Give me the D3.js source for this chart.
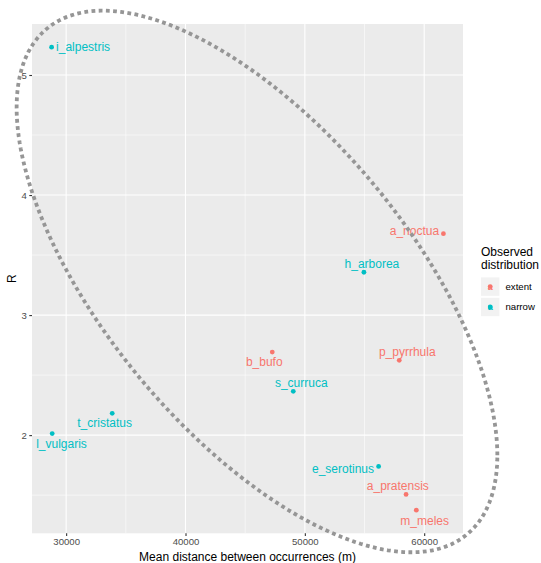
<!DOCTYPE html>
<html>
<head>
<meta charset="utf-8">
<script src="https://cdn.jsdelivr.net/npm/d3@7"></script>
<style>
  body { margin: 0; background: #fff; }
  text { font-family: "Liberation Sans", Arial, Helvetica, sans-serif; }
</style>
</head>
<body>
<svg id="chart" width="541" height="563"></svg>
<script>
// data
var species = ["i_alpestris", "a_noctua", "h_arborea", "b_bufo", "p_pyrrhula", "s_curruca",
               "t_cristatus", "l_vulgaris", "e_serotinus", "a_pratensis", "m_meles"];
var meanDist = [28780, 61610, 54950, 47270, 57910, 49030, 33860, 28830, 56180, 58480, 59340];
var rValues = [5.232, 3.678, 3.357, 2.692, 2.623, 2.365, 2.182, 2.013, 1.739, 1.506, 1.375];
var distribution = ["narrow", "extent", "narrow", "extent", "extent", "narrow",
                    "narrow", "narrow", "narrow", "extent", "extent"];
var groups = ["extent", "narrow"];
var xTicks = [30000, 40000, 50000, 60000];
var yTicks = [2, 3, 4, 5];

// hand drawn ellipse annotation (data units: centre, spread, correlation)
var ellipse = {cx: 45990, cy: 3.28, sx: 20140, sy: 2.256, rho: -0.642};

// repel-style label offsets, pixels from the point
var labelNudge = {
    i_alpestris: [31.5, 0], a_noctua: [-29, -3], h_arborea: [8, -8.7], b_bufo: [-8, 10],
    p_pyrrhula: [8, -8.3], s_curruca: [8, -8.7], t_cristatus: [-7.6, 10], l_vulgaris: [9.3, 10.7],
    e_serotinus: [-35.6, 2], a_pratensis: [-8.2, -8.6], m_meles: [8.4, 10.3]
};

var points = species.map(function (s, i) {
    return {name: s, x: meanDist[i], y: rValues[i], group: distribution[i]};
});

var panel = {left: 32, right: 463, top: 24, bottom: 533.3};

function expand(ext) {
    var r = ext[1] - ext[0];
    return [ext[0] - 0.05 * r, ext[1] + 0.05 * r];
}

var x = d3.scaleLinear().domain(expand(d3.extent(meanDist))).range([panel.left, panel.right]);
var y = d3.scaleLinear().domain(expand(d3.extent(rValues))).range([panel.bottom, panel.top]);
var color = d3.scaleOrdinal().domain(groups).range(["#F8766D", "#00BFC4"]);

var svg = d3.select("#chart");

// panel
svg.append("rect")
    .attr("x", panel.left).attr("y", panel.top)
    .attr("width", panel.right - panel.left).attr("height", panel.bottom - panel.top)
    .attr("fill", "#EBEBEB");

var xMinor = [35000, 45000, 55000];
var yMinor = [1.5, 2.5, 3.5, 4.5];
var grid = svg.append("g");
grid.selectAll(".xmin").data(xMinor).enter().append("line")
    .attr("x1", x).attr("x2", x).attr("y1", panel.top).attr("y2", panel.bottom)
    .attr("stroke", "#fff").attr("stroke-width", 0.55);
grid.selectAll(".ymin").data(yMinor).enter().append("line")
    .attr("y1", y).attr("y2", y).attr("x1", panel.left).attr("x2", panel.right)
    .attr("stroke", "#fff").attr("stroke-width", 0.55);
grid.selectAll(".xmaj").data(xTicks).enter().append("line")
    .attr("x1", x).attr("x2", x).attr("y1", panel.top).attr("y2", panel.bottom)
    .attr("stroke", "#fff").attr("stroke-width", 1.1);
grid.selectAll(".ymaj").data(yTicks).enter().append("line")
    .attr("y1", y).attr("y2", y).attr("x1", panel.left).attr("x2", panel.right)
    .attr("stroke", "#fff").attr("stroke-width", 1.1);

// axes
var xAxis = svg.append("g")
    .attr("transform", "translate(0," + panel.bottom + ")")
    .call(d3.axisBottom(x).tickValues(xTicks).tickFormat(d3.format("d")).tickSize(2.7).tickPadding(2.4));
var yAxis = svg.append("g")
    .attr("transform", "translate(" + panel.left + ",0)")
    .call(d3.axisLeft(y).tickValues(yTicks).tickFormat(d3.format("d")).tickSize(2.7).tickPadding(2.4));
[xAxis, yAxis].forEach(function (a) {
    a.select(".domain").remove();
    a.selectAll(".tick line").attr("stroke", "#333333").attr("stroke-width", 1.1);
    a.selectAll(".tick text").attr("fill", "#4D4D4D").style("font-size", "9.6px")
        .style("font-family", "'Liberation Sans', Arial, sans-serif");
});

svg.append("text")
    .attr("x", (panel.left + panel.right) / 2).attr("y", 556.7).attr("dy", "0.35em")
    .attr("text-anchor", "middle").style("font-size", "12px").attr("fill", "#000")
    .text("Mean distance between occurrences (m)");
svg.append("text")
    .attr("transform", "translate(11.7," + (panel.top + panel.bottom) / 2 + ") rotate(-90)")
    .attr("dy", "0.35em").attr("text-anchor", "middle").style("font-size", "12px").attr("fill", "#000")
    .text("R");

// points and labels
svg.append("g").selectAll("circle").data(points).enter().append("circle")
    .attr("cx", function (d) { return x(d.x); })
    .attr("cy", function (d) { return y(d.y); })
    .attr("r", 2.4)
    .attr("fill", function (d) { return color(d.group); });

svg.append("g").selectAll("text").data(points).enter().append("text")
    .attr("x", function (d) { return x(d.x) + labelNudge[d.name][0]; })
    .attr("y", function (d) { return y(d.y) + labelNudge[d.name][1]; })
    .attr("dy", "0.35em").attr("text-anchor", "middle")
    .style("font-size", "12px")
    .attr("fill", function (d) { return color(d.group); })
    .text(function (d) { return d.name; });

// legend
var legend = svg.append("g");
legend.append("text").attr("x", 481).attr("y", 251.7).attr("dy", "0.35em")
    .style("font-size", "12px").text("Observed");
legend.append("text").attr("x", 481).attr("y", 265).attr("dy", "0.35em")
    .style("font-size", "12px").text("distribution");
var keys = legend.selectAll(".key").data(groups).enter().append("g")
    .attr("transform", function (d, i) { return "translate(481," + (277.4 + i * 20.4) + ")"; });
keys.append("rect").attr("width", 18.4).attr("height", 18.4).attr("fill", "#F2F2F2");
keys.append("circle").attr("cx", 9.2).attr("cy", 9.2).attr("r", 2.4).attr("fill", color);
keys.append("text").attr("x", 9.2).attr("y", 9.2).attr("dy", "0.35em").attr("text-anchor", "middle")
    .style("font-size", "9px").style("font-weight", "bold").attr("fill", color).text("a");
keys.append("text").attr("x", 24.5).attr("y", 9.2).attr("dy", "0.35em")
    .style("font-size", "9.6px").attr("fill", "#000").text(function (d) { return d; });

// dotted ellipse, drawn on top and not clipped
var ts = d3.range(0, 360, 1.5).map(function (a) { return a * Math.PI / 180; });
var k = Math.sqrt(1 - ellipse.rho * ellipse.rho);
var ring = ts.map(function (t) {
    return [ellipse.cx + ellipse.sx * Math.cos(t),
            ellipse.cy + ellipse.sy * (ellipse.rho * Math.cos(t) + k * Math.sin(t))];
});
svg.append("path")
    .datum(ring)
    .attr("d", d3.line().x(function (d) { return x(d[0]); }).y(function (d) { return y(d[1]); })
        .curve(d3.curveLinearClosed))
    .attr("fill", "none")
    .attr("stroke", "#969696")
    .attr("stroke-width", 3.8)
    .attr("stroke-dasharray", "3.8 3.4");
</script>
</body>
</html>
